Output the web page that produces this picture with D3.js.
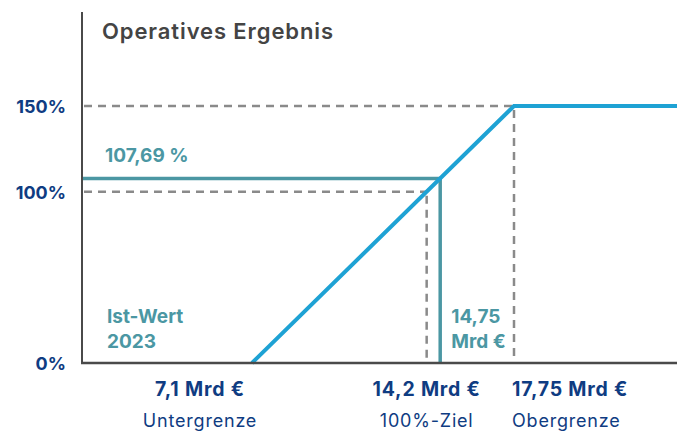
<!DOCTYPE html>
<html>
<head>
<meta charset="utf-8">
<script src="https://cdn.jsdelivr.net/npm/d3@7"></script>
<style>
  html, body { margin: 0; padding: 0; background: #fff; }
  svg text { font-family: Inter, "Open Sans", sans-serif; }
</style>
</head>
<body>
<svg id="chart" width="677" height="432"></svg>
<script>
// ---- data ----
const title = "Operatives Ergebnis";
const thresholdValues = [7.1, 14.2, 17.75];          // Mrd €
const thresholdPayout = [0, 100, 150];               // %
const thresholdLabels = ["7,1 Mrd €", "14,2 Mrd €", "17,75 Mrd €"];
const thresholdNames = ["Untergrenze", "100%-Ziel", "Obergrenze"];
const yTickValues = [0, 100, 150];
const yTickLabels = ["0%", "100%", "150%"];
const actualValue = 14.75;                           // Mrd €
const actualPayout = 107.69;                         // %
const actualPayoutLabel = "107,69 %";
const actualValueLabel = ["14,75", "Mrd €"];
const actualTitle = ["Ist-Wert", "2023"];

// ---- layout ----
const svg = d3.select("#chart");
const plotLeft = 82, plotRight = 677, plotBottom = 363, plotTop = 12;
const x = d3.scaleLinear().domain([thresholdValues[0], thresholdValues[2]]).range([252, 514]);
const y = d3.scaleLinear().domain([0, 150]).range([plotBottom, 106]);
const xMax = x.invert(plotRight);

const navy = "#0f3c82", teal = "#4b97a3", blue = "#1ea2d4", grey = "#8a8a8a", axisCol = "#4a4a4a";

// title
svg.append("text").attr("x", 102).attr("y", 39)
  .attr("font-size", 22).attr("font-weight", 600).attr("fill", "#444")
  .attr("letter-spacing", 0.9)
  .text(title);

// dashed guides
const dashG = svg.append("g").attr("stroke", grey).attr("stroke-width", 2.5)
  .attr("stroke-dasharray", "8,6").attr("fill", "none");
[1, 2].forEach(i => {
  dashG.append("line")
    .attr("x1", plotLeft + 2).attr("x2", x(thresholdValues[i]))
    .attr("y1", y(thresholdPayout[i])).attr("y2", y(thresholdPayout[i]));
  dashG.append("line")
    .attr("x1", x(thresholdValues[i])).attr("x2", x(thresholdValues[i]))
    .attr("y1", y(thresholdPayout[i]) + 4).attr("y2", plotBottom);
});

// actual value lines (teal)
svg.append("line").attr("x1", plotLeft).attr("x2", x(actualValue) + 1.75)
  .attr("y1", y(actualPayout)).attr("y2", y(actualPayout))
  .attr("stroke", teal).attr("stroke-width", 3.5);
svg.append("line").attr("x1", x(actualValue)).attr("x2", x(actualValue))
  .attr("y1", y(actualPayout)).attr("y2", plotBottom)
  .attr("stroke", teal).attr("stroke-width", 3.5);

// payout curve (blue)
const curve = [
  [thresholdValues[0], thresholdPayout[0]],
  [thresholdValues[2], thresholdPayout[2]],
  [xMax, thresholdPayout[2]]
];
svg.append("path")
  .attr("d", d3.line().x(d => x(d[0])).y(d => y(d[1]))(curve))
  .attr("fill", "none").attr("stroke", blue).attr("stroke-width", 4);

// axes
svg.append("line").attr("x1", plotLeft).attr("x2", plotLeft).attr("y1", plotTop).attr("y2", plotBottom + 1)
  .attr("stroke", axisCol).attr("stroke-width", 2);
svg.append("line").attr("x1", plotLeft - 1).attr("x2", plotRight).attr("y1", plotBottom).attr("y2", plotBottom)
  .attr("stroke", axisCol).attr("stroke-width", 2.5);

// y tick labels
svg.append("g").selectAll("text").data(yTickValues).join("text")
  .attr("x", 66).attr("y", d => y(d) + 7)
  .attr("text-anchor", "end").attr("font-size", 18).attr("font-weight", 700).attr("fill", navy)
  .text((d, i) => yTickLabels[i]);

// x threshold labels
const labelX = [x(thresholdValues[0]) - 52, x(thresholdValues[1]), x(thresholdValues[2]) - 2];
const labelAnchor = ["middle", "middle", "start"];
svg.append("g").selectAll("text").data(thresholdLabels).join("text")
  .attr("x", (d, i) => labelX[i]).attr("y", 396)
  .attr("text-anchor", (d, i) => labelAnchor[i])
  .attr("font-size", 19.5).attr("font-weight", 700).attr("fill", navy)
  .attr("letter-spacing", 0.8)
  .text(d => d);
svg.append("g").selectAll("text").data(thresholdNames).join("text")
  .attr("x", (d, i) => labelX[i]).attr("y", 427)
  .attr("text-anchor", (d, i) => labelAnchor[i])
  .attr("font-size", 18).attr("font-weight", 400).attr("fill", navy)
  .attr("letter-spacing", 0.8)
  .text(d => d);

// annotations
svg.append("text").attr("x", 105).attr("y", 162)
  .attr("font-size", 19).attr("font-weight", 700).attr("fill", teal)
  .text(actualPayoutLabel);
svg.append("g").selectAll("text").data(actualTitle).join("text")
  .attr("x", 107).attr("y", (d, i) => 323 + i * 25)
  .attr("font-size", 19).attr("font-weight", 700).attr("fill", teal)
  .text(d => d);
svg.append("g").selectAll("text").data(actualValueLabel).join("text")
  .attr("x", x(actualValue) + 11).attr("y", (d, i) => 323 + i * 25)
  .attr("font-size", 19).attr("font-weight", 700).attr("fill", teal)
  .text(d => d);
</script>
</body>
</html>
